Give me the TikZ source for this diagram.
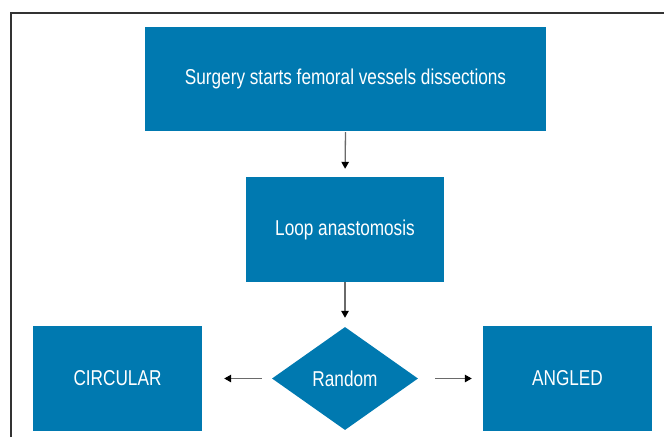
\documentclass[tikz,border=0pt]{standalone}
\usepackage{fontspec}
\setmainfont{Liberation Sans}[FakeStretch=0.8]
\usetikzlibrary{shapes.geometric,arrows.meta}
\definecolor{boxblue}{HTML}{0079B0}
\definecolor{framegray}{HTML}{333333}
\definecolor{arrowgray}{HTML}{6A6A6A}
\tikzset{
  flowbox/.style={fill=boxblue, draw=none, inner sep=0pt, text=white,
    font=\fontsize{21.5}{24}\selectfont},
  decide/.style={flowbox, shape=diamond, minimum width=146pt, minimum height=103pt},
  flowarrow/.style={draw=arrowgray, line width=1.3pt,
    -{Triangle[length=7pt,width=7.5pt,fill=black,color=black]}}
}
\begin{document}
\begin{tikzpicture}[x=1pt,y=-1pt]
\useasboundingbox (0,0) rectangle (664,437);
\draw[framegray, line width=1.6pt] (11,437) -- (11,13) -- (664,13);
\node[flowbox, minimum width=401pt, minimum height=104pt] (top) at (345.5,79) {Surgery starts femoral vessels dissections};
\node[flowbox, minimum width=198pt, minimum height=105pt] (loop) at (345,229.5) {Loop anastomosis};
\node[decide] (rand) at (345,378.5) {Random};
\node[flowbox, minimum width=169pt, minimum height=105pt] (circ) at (117.5,378.5) {CIRCULAR};
\node[flowbox, minimum width=169pt, minimum height=105pt] (ang) at (567.5,378.5) {ANGLED};
\draw[flowarrow, shorten <=1pt, shorten >=8pt] (top.south) -- (loop.north);
\draw[flowarrow, shorten >=9pt] (loop.south) -- (rand.north);
\draw[flowarrow, shorten <=10pt, shorten >=22pt] (rand.west) -- (circ.east);
\draw[flowarrow, shorten <=17pt, shorten >=11pt] (rand.east) -- (ang.west);
\end{tikzpicture}
\end{document}
